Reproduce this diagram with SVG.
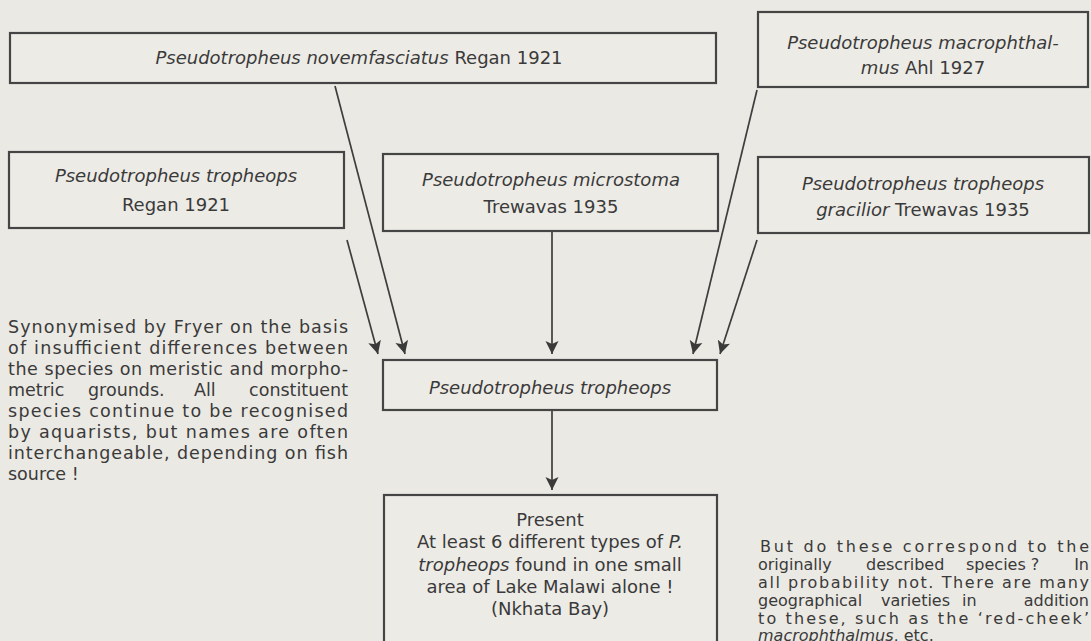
<svg xmlns="http://www.w3.org/2000/svg" width="1091" height="641" viewBox="0 0 1091 641">
<defs>
<style>
.bg{fill:#ebe9e3}
.box{fill:#edebe6;stroke:#454545;stroke-width:2.2}
.t{font-family:"DejaVu Sans",Verdana,sans-serif;font-size:18px;fill:#3a3a3a;text-anchor:middle}
.p{font-family:"DejaVu Sans",Verdana,sans-serif;font-size:17.5px;fill:#3a3a3a}
.r{font-size:16px}
.e{text-anchor:end}
.i{font-style:italic}
.c{stroke:#3e3e3e;stroke-width:1.7;fill:none;marker-end:url(#ah)}
</style>
<marker id="ah" markerUnits="userSpaceOnUse" markerWidth="16" markerHeight="14" viewBox="0 0 16 14" refX="13" refY="7" orient="auto">
<path d="M0,0.5 L13,7 L0,13.5 L3,7 z" fill="#3a3a3a"/>
</marker>
</defs>
<rect class="bg" x="0" y="0" width="1091" height="641"/>

<g id="connectors">
<line class="c" x1="335" y1="86" x2="405" y2="354"/>
<line class="c" x1="347" y1="240" x2="378" y2="354"/>
<line class="c" x1="552" y1="232" x2="552" y2="354"/>
<line class="c" x1="757" y1="90" x2="693" y2="354"/>
<line class="c" x1="757" y1="240" x2="720" y2="354"/>
<line class="c" x1="552" y1="411" x2="552" y2="490"/>
</g>

<g id="novemfasciatus">
<rect class="box" x="10" y="33" width="706" height="50"/>
<text class="t" x="359" y="64"><tspan class="i">Pseudotropheus novemfasciatus</tspan> Regan 1921</text>
</g>

<g id="macrophthalmus">
<rect class="box" x="758" y="12" width="330" height="75"/>
<text class="t" x="923" y="49"><tspan class="i">Pseudotropheus macrophthal-</tspan></text>
<text class="t" x="923" y="74"><tspan class="i">mus</tspan> Ahl 1927</text>
</g>

<g id="tropheops-regan">
<rect class="box" x="9" y="152" width="335" height="76"/>
<text class="t" x="176" y="182"><tspan class="i">Pseudotropheus tropheops</tspan></text>
<text class="t" x="176" y="211">Regan 1921</text>
</g>

<g id="microstoma">
<rect class="box" x="383" y="154" width="335" height="77"/>
<text class="t" x="551" y="186"><tspan class="i">Pseudotropheus microstoma</tspan></text>
<text class="t" x="551" y="213">Trewavas 1935</text>
</g>

<g id="gracilior">
<rect class="box" x="758" y="157" width="331" height="76"/>
<text class="t" x="923" y="190"><tspan class="i">Pseudotropheus tropheops</tspan></text>
<text class="t" x="923" y="216"><tspan class="i">gracilior</tspan> Trewavas 1935</text>
</g>

<g id="tropheops">
<rect class="box" x="383" y="360" width="334" height="50"/>
<text class="t i" x="550" y="394">Pseudotropheus tropheops</text>
</g>

<g id="present">
<rect class="box" x="384" y="495" width="333" height="160"/>
<text class="t" x="550" y="526">Present</text>
<text class="t" x="550" y="548">At least 6 different types of <tspan class="i">P.</tspan></text>
<text class="t" x="550" y="571"><tspan class="i">tropheops</tspan> found in one small</text>
<text class="t" x="550" y="593">area of Lake Malawi alone !</text>
<text class="t" x="550" y="615">(Nkhata Bay)</text>
</g>

<g id="note-left">
<text class="p" x="8" y="333" textLength="340" lengthAdjust="spacing">Synonymised by Fryer on the basis</text>
<text class="p" x="8" y="354" textLength="340" lengthAdjust="spacing">of insufficient differences between</text>
<text class="p" x="8" y="375" textLength="340" lengthAdjust="spacing">the species on meristic and morpho-</text>
<text class="p" x="8" y="396"><tspan x="8">metric</tspan><tspan x="88">grounds.</tspan><tspan x="194">All</tspan><tspan class="e" x="348">constituent</tspan></text>
<text class="p" x="8" y="417" textLength="340" lengthAdjust="spacing">species continue to be recognised</text>
<text class="p" x="8" y="438" textLength="340" lengthAdjust="spacing">by aquarists, but names are often</text>
<text class="p" x="8" y="459" textLength="340" lengthAdjust="spacing">interchangeable, depending on fish</text>
<text class="p" x="8" y="480">source !</text>
</g>

<g id="note-right">
<text class="p r" x="760" y="552" textLength="329" lengthAdjust="spacing">But do these correspond to the</text>
<text class="p r" y="570"><tspan x="758">originally</tspan><tspan x="866">described</tspan><tspan x="966">species ?</tspan><tspan class="e" x="1089">In</tspan></text>
<text class="p r" x="758" y="588" textLength="331" lengthAdjust="spacing">all probability not.  There are many</text>
<text class="p r" y="606"><tspan x="758">geographical</tspan><tspan x="881">varieties</tspan><tspan x="962">in</tspan><tspan class="e" x="1089">addition</tspan></text>
<text class="p r" x="758" y="624" textLength="331" lengthAdjust="spacing">to these, such as the ‘red-cheek’</text>
<text class="p r" x="758" y="641"><tspan class="i">macrophthalmus</tspan>, etc.</text>
</g>
</svg>
